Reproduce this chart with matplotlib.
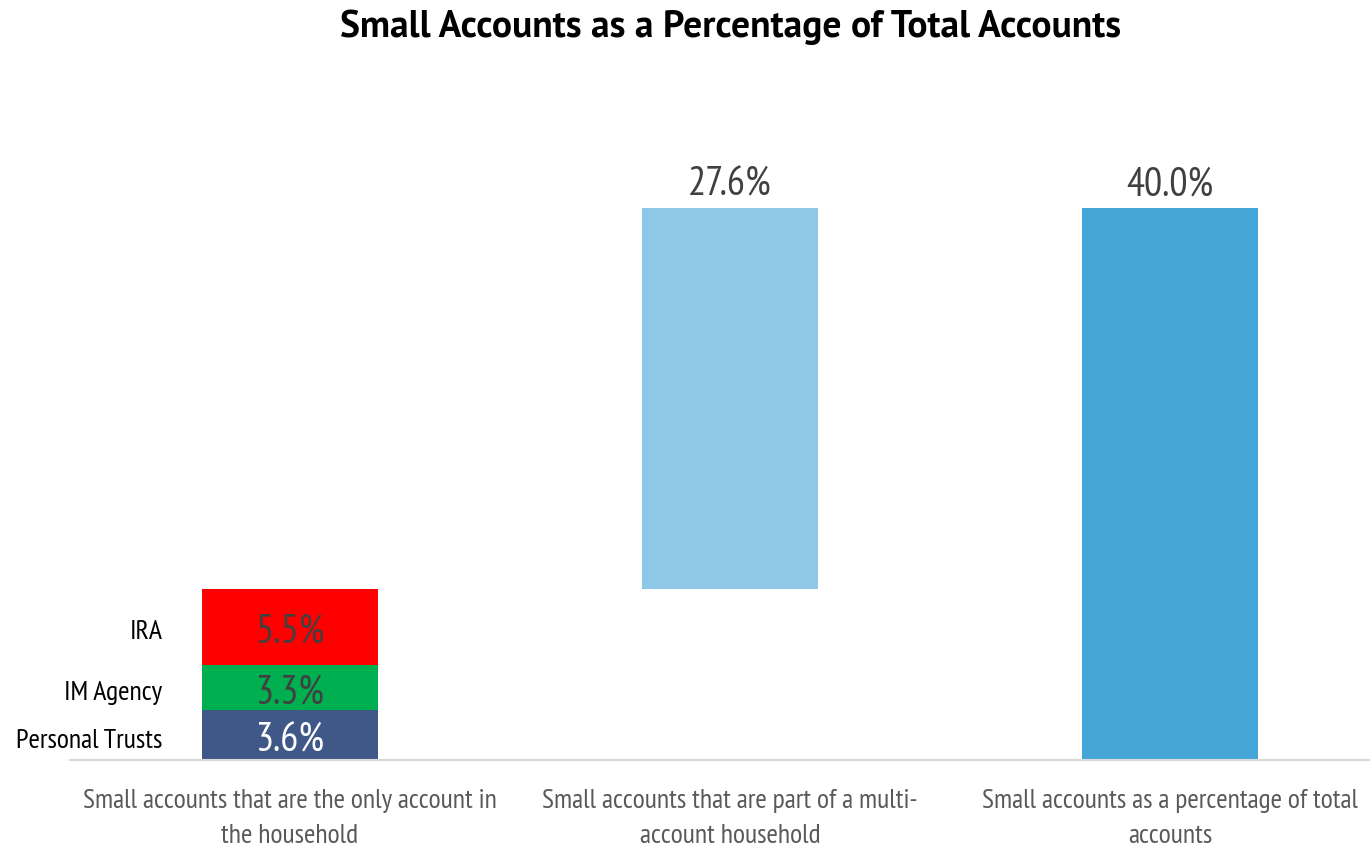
import matplotlib
matplotlib.use("Agg")
import matplotlib.pyplot as plt
from matplotlib import font_manager

# Data
categories = [
    "Small accounts that are the only account in\nthe household",
    "Small accounts that are part of a multi-\naccount household",
    "Small accounts as a percentage of total\naccounts",
]
segment_names = ["Personal Trusts", "IM Agency", "IRA"]
segment_values = [3.6, 3.3, 5.5]
segment_colors = ["#3F5887", "#00AF50", "#FF0000"]
segment_label_colors = ["#FFFFFF", "#404040", "#404040"]
multi_value = 27.6
total_value = 40.0
title = "Small Accounts as a Percentage of Total Accounts"


def first_installed(candidates):
    names = {f.name for f in font_manager.fontManager.ttflist}
    for c in candidates:
        if c in names:
            return c
    return "DejaVu Sans"


narrow = first_installed(["PT Sans Narrow", "Fira Sans Condensed", "Roboto Condensed",
                          "Barlow Semi Condensed", "Asap Condensed"])
title_font = first_installed(["PT Sans", "Open Sans", "Lato"])
plt.rcParams["font.family"] = [narrow, "DejaVu Sans"]

fig = plt.figure(figsize=(13.70, 8.51), dpi=100)
ax = fig.add_axes([70 / 1370, 91 / 851, 1.0 - 70 / 1370, 48 * 13.8 / 851])

width = 0.4
label_shift = 0.4
# Stacked first column
bottom = 0.0
for name, val, col, lc in zip(segment_names, segment_values, segment_colors, segment_label_colors):
    ax.bar(0, val, width=width, bottom=bottom, color=col, zorder=2)
    mid = bottom + val / 2 - label_shift
    ax.text(0, mid, f"{val:.1f}%", ha="center", va="center", fontsize=29, color=lc, zorder=3)
    ax.text(-0.29, mid, name, ha="right", va="center", fontsize=20, color="#000000")
    bottom += val

# Floating column on top of the stacked total
start = sum(segment_values)
ax.bar(1, multi_value, width=width, bottom=start, color="#8FC8E6", zorder=2)
ax.text(1, start + multi_value + 0.3, f"{multi_value:.1f}%", ha="center", va="bottom",
        fontsize=29, color="#404040")

# Total column
ax.bar(2, total_value, width=width, bottom=0, color="#45A7D7", zorder=2)
ax.text(2, total_value + 0.3, f"{total_value:.1f}%", ha="center", va="bottom",
        fontsize=29, color="#404040")

ax.set_xlim(-0.5, 2.4545)
ax.set_ylim(0, 48)
ax.set_yticks([])
ax.set_xticks([0, 1, 2])
ax.set_xticklabels(categories, fontsize=20, color="#595959", linespacing=1.55)
ax.tick_params(axis="x", length=0, pad=21)
for s in ["top", "right", "left"]:
    ax.spines[s].set_visible(False)
ax.spines["bottom"].set_color("#D9D9D9")
ax.spines["bottom"].set_linewidth(1.5)

fig.text(0.5335, 0.968, title, ha="center", va="center",
         fontsize=27, fontweight="bold", color="#000000", family=[title_font, "DejaVu Sans"])

fig.savefig("out.png", dpi=100, facecolor="white")
